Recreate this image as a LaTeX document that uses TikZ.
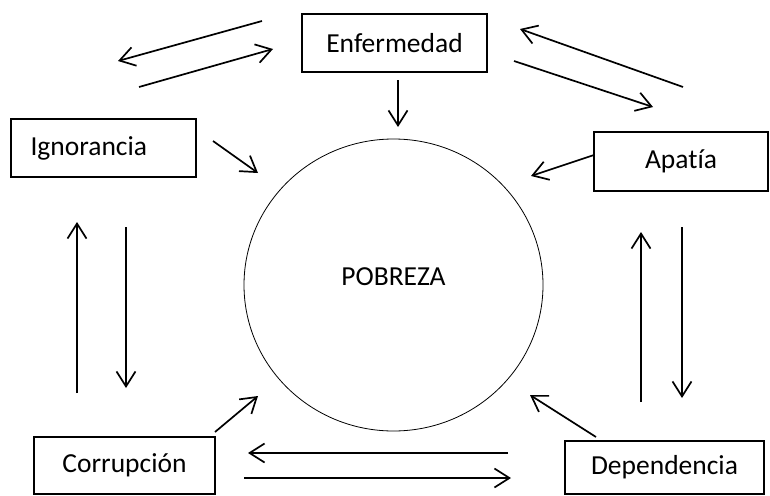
\documentclass[tikz,border=0pt]{standalone}
\usepackage{fontspec}
\setmainfont{Carlito}[Ligatures=NoCommon]
\usetikzlibrary{arrows.meta,shapes.geometric}

\tikzset{
  box/.style={shape=rectangle, draw=black, line width=1.6pt, inner sep=0pt,
    minimum height=58pt, font=\fontsize{27.5}{32}\selectfont},
  arr/.style={-{Straight Barb[length=15pt,width=19pt]}, line width=1.7pt},
}

\begin{document}
\begin{tikzpicture}[x=1pt,y=-1pt]
\useasboundingbox (0,0) rectangle (770,495);

\node[shape=ellipse, draw=black, line width=0.8pt, inner sep=0pt, minimum width=299pt,
  minimum height=292pt, text depth=16pt, font=\fontsize{27.5}{32}\selectfont](pob) at (393.5,285) {POBREZA};
\node[box, minimum width=185pt](enf) at (394.5,43) {Enfermedad};
\node[box, minimum width=185pt, text width=146pt, align=left](ign) at (103.5,148) {Ignorancia};
\node[box, minimum width=174pt, minimum height=59pt](apa) at (681,161.5) {Apatía};
\node[box, minimum width=181pt, minimum height=57pt](cor) at (124.5,465.5) {Corrupción};
\node[box, minimum width=199pt, minimum height=53pt](dep) at (664.5,467.5) {Dependencia};

% free ends of the arrows
\coordinate (a1) at (262,21);  \coordinate (b1) at (118,61);
\coordinate (a2) at (139,87);  \coordinate (b2) at (273,49);
\coordinate (a3) at (514,61);  \coordinate (b3) at (653,107);
\coordinate (a4) at (683,87);  \coordinate (b4) at (520,29);
\coordinate (a5) at (398,80);  \coordinate (b5) at (398,127);
\coordinate (a6) at (213,141); \coordinate (b6) at (258,173);
\coordinate (a7) at (594,155); \coordinate (b7) at (531,176);
\coordinate (a8) at (77,393);  \coordinate (b8) at (77,222);
\coordinate (a9) at (126,227); \coordinate (b9) at (126,388);
\coordinate (a10) at (641,402); \coordinate (b10) at (641,232);
\coordinate (a11) at (682,227); \coordinate (b11) at (682,398);
\coordinate (a12) at (215,432); \coordinate (b12) at (258,396);
\coordinate (a13) at (596,437); \coordinate (b13) at (530,395);
\coordinate (a14) at (508,453); \coordinate (b14) at (248,453);
\coordinate (a15) at (244,478); \coordinate (b15) at (511,478);

\foreach \i in {1,...,15}
  \path[arr] (a\i) edge (b\i);
\end{tikzpicture}
\end{document}
